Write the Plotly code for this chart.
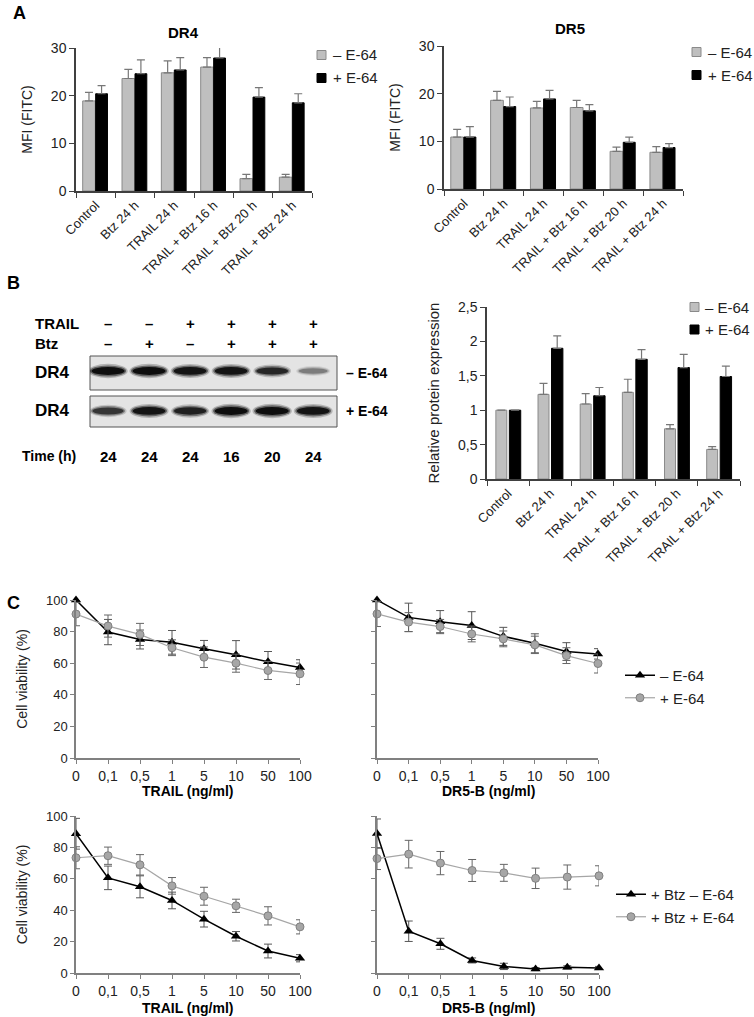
import plotly.graph_objects as go

W, H = 754, 1017
def px(x): return x / W
def py(y): return 1 - y / H

# ---------------- data ----------------
cats = ["Control", "Btz 24 h", "TRAIL 24 h", "TRAIL + Btz 16 h", "TRAIL + Btz 20 h", "TRAIL + Btz 24 h"]
dr4_minus = [18.9, 23.6, 24.8, 26.0, 2.6, 2.9]
dr4_minus_err = [1.8, 1.9, 2.5, 2.0, 0.9, 0.6]
dr4_plus = [20.4, 24.6, 25.4, 27.9, 19.7, 18.5]
dr4_plus_err = [1.7, 2.9, 2.6, 3.0, 2.0, 1.9]
dr5_minus = [10.9, 18.6, 17.0, 17.1, 7.9, 7.7]
dr5_minus_err = [1.6, 1.9, 1.4, 1.5, 0.9, 1.2]
dr5_plus = [10.9, 17.3, 18.9, 16.4, 9.8, 8.7]
dr5_plus_err = [2.2, 2.0, 1.8, 1.3, 1.1, 0.8]
rel_minus = [1.0, 1.23, 1.09, 1.26, 0.73, 0.43]
rel_minus_err = [0, 0.16, 0.15, 0.19, 0.06, 0.04]
rel_plus = [1.0, 1.90, 1.21, 1.74, 1.62, 1.49]
rel_plus_err = [0, 0.18, 0.12, 0.14, 0.19, 0.15]
bar_series = ["– E-64", "+ E-64"]

doses = ["0", "0,1", "0,5", "1", "5", "10", "50", "100"]
trail_minus = [100, 79.7, 75.0, 73.2, 69.1, 65.3, 60.9, 57.3]
trail_minus_err = [0, 8, 6, 7.5, 5.3, 9, 6.5, 4.9]
trail_plus = [91.1, 83.5, 78.2, 69.8, 63.8, 60.0, 55.4, 53.3]
trail_plus_err = [7.4, 7, 7, 5, 6.5, 5.7, 5.7, 6.8]
dr5b_minus = [100, 89, 86.3, 83.8, 77, 72.6, 67.4, 65.9]
dr5b_minus_err = [0, 9, 7, 8.8, 5.7, 6, 5.6, 3.3]
dr5b_plus = [91.2, 86, 83.2, 78.5, 75.4, 71.6, 64.8, 59.8]
dr5b_plus_err = [8, 6, 4.5, 5, 5, 5.5, 5, 6]
btz_trail_minus = [88.7, 60.6, 54.9, 46.2, 34.3, 23.4, 14.0, 9.4]
btz_trail_minus_err = [9.8, 7.5, 7, 5.3, 5, 3, 4.4, 2.3]
btz_trail_plus = [73.4, 74.7, 68.9, 55.5, 48.9, 42.8, 36.4, 29.4]
btz_trail_plus_err = [7, 5.5, 6.5, 5.3, 5.7, 4.2, 5.8, 4.5]
btz_dr5b_minus = [88.8, 26.6, 18.6, 8.0, 4.2, 2.5, 3.6, 3.2]
btz_dr5b_minus_err = [9.3, 6.5, 3.5, 1.6, 2, 1, 1, 1]
btz_dr5b_plus = [72.9, 75.7, 70.0, 65.3, 63.8, 60.3, 61.1, 61.9]
btz_dr5b_plus_err = [7, 8.8, 7.4, 7, 5.4, 6.5, 7.7, 6.4]

trail_signs = ["–", "–", "+", "+", "+", "+"]
btz_signs = ["–", "+", "–", "+", "+", "+"]
times = ["24", "24", "24", "16", "20", "24"]
band_minus = [1.0, 1.0, 0.95, 0.95, 0.8, 0.35]
band_plus = [0.7, 0.95, 0.85, 1.0, 1.0, 0.95]

FONT = "Liberation Sans, Arial, sans-serif"
GRAY = "#bfbfbf"
GRAY_LINE = "#8a8a8a"
ERR = "#777777"

fig = go.Figure()
shapes = []
ann = []

def A(x, y, t, size, bold=True, xref="paper", xanchor="center", color="#000000", yanchor="middle"):
    ann.append(dict(x=x, y=y, xref=xref, yref="paper", text=("<b>%s</b>" % t) if bold else t,
                    showarrow=False, font=dict(family=FONT, size=size, color=color),
                    xanchor=xanchor, yanchor=yanchor))

# ---------------- bar panels ----------------
def bars(xa, ya, minus, minus_err, plus, plus_err, goff, gw, boff, bw):
    n = len(minus)
    fig.add_trace(go.Bar(x=cats, y=minus, xaxis=xa, yaxis=ya, name=bar_series[0],
                         offset=goff, width=gw, showlegend=False,
                         marker=dict(color=GRAY, line=dict(color=GRAY_LINE, width=1)),
                         error_y=dict(type="data", symmetric=False, array=minus_err,
                                      arrayminus=[0] * n, color=ERR, thickness=1.2, width=4)))
    fig.add_trace(go.Bar(x=cats, y=plus, xaxis=xa, yaxis=ya, name=bar_series[1],
                         offset=boff, width=bw, showlegend=False,
                         marker=dict(color="#000000", line=dict(color="#000000", width=1)),
                         error_y=dict(type="data", symmetric=False, array=plus_err,
                                      arrayminus=[0] * n, color=ERR, thickness=1.2, width=4)))

bars("x", "y", dr4_minus, dr4_minus_err, dr4_plus, dr4_plus_err, -0.33, 0.32, 0.0, 0.3)
bars("x2", "y2", dr5_minus, dr5_minus_err, dr5_plus, dr5_plus_err, -0.33, 0.32, 0.0, 0.3)
bars("x3", "y3", rel_minus, rel_minus_err, rel_plus, rel_plus_err, -0.29, 0.26, 0.03, 0.27)

def bar_legend(x_sq, y_first, step, x_txt):
    fills = [(GRAY, GRAY_LINE), ("#000000", "#000000")]
    for k, name in enumerate(bar_series):
        yc = y_first + k * step
        shapes.append(dict(type="rect", xref="paper", yref="paper", x0=px(x_sq), x1=px(x_sq + 9),
                           y0=py(yc + 4.5), y1=py(yc - 4.5), fillcolor=fills[k][0],
                           line=dict(color=fills[k][1], width=1)))
        A(px(x_txt), py(yc), name, 15, bold=False, xanchor="left", color="#222222")

bar_legend(317, 55, 23, 331)
bar_legend(692, 52, 23, 706)
bar_legend(690, 307, 22.5, 703)

# ---------------- line panels ----------------
def lines(xa, ya, blk, blk_err, gry, gry_err, legend, names, show):
    xs = list(range(len(doses)))
    fig.add_trace(go.Scatter(x=xs, y=blk, xaxis=xa, yaxis=ya, mode="lines+markers",
                             name=names[0], legend=legend, showlegend=show, cliponaxis=False,
                             line=dict(color="#000000", width=1.5),
                             marker=dict(symbol="triangle-up", size=9, color="#000000"),
                             error_y=dict(type="data", array=blk_err, color="#555555",
                                          thickness=1, width=4)))
    fig.add_trace(go.Scatter(x=xs, y=gry, xaxis=xa, yaxis=ya, mode="lines+markers",
                             name=names[1], legend=legend, showlegend=show, cliponaxis=False,
                             line=dict(color="#a6a6a6", width=1.2),
                             marker=dict(symbol="circle", size=8, color="#a6a6a6",
                                         line=dict(color="#808080", width=1)),
                             error_y=dict(type="data", array=gry_err, color="#666666",
                                          thickness=1, width=4)))

n1 = ["– E-64", "+ E-64"]
n2 = ["+ Btz – E-64", "+ Btz + E-64"]
lines("x5", "y5", trail_minus, trail_minus_err, trail_plus, trail_plus_err, "legend", n1, False)
lines("x6", "y6", dr5b_minus, dr5b_minus_err, dr5b_plus, dr5b_plus_err, "legend", n1, True)
lines("x7", "y7", btz_trail_minus, btz_trail_minus_err, btz_trail_plus, btz_trail_plus_err, "legend2", n2, False)
lines("x8", "y8", btz_dr5b_minus, btz_dr5b_minus_err, btz_dr5b_plus, btz_dr5b_plus_err, "legend2", n2, True)

# x-axis titles for the viability panels
A(px(188), py(791), "TRAIL (ng/ml)", 14)
A(px(488), py(791), "DR5-B (ng/ml)", 14)
A(px(188), py(1008), "TRAIL (ng/ml)", 14)
A(px(488), py(1008), "DR5-B (ng/ml)", 14)

# ---------------- blot ----------------
for (y0, y1) in [(356, 390), (396, 427)]:
    shapes.append(dict(type="rect", xref="paper", yref="paper", x0=px(90), x1=px(337),
                       y0=py(y1), y1=py(y0), fillcolor="#e4e4e4",
                       line=dict(color="#555555", width=1), layer="below"))
for row, vals in enumerate([band_minus, band_plus]):
    for i, v in enumerate(vals):
        for sx, sy, op in [(1.0, 1.0, 0.22), (0.92, 0.78, 0.45), (0.84, 0.55, 0.85)]:
            hh = 0.18 * sy * (0.55 + 0.45 * v)
            ww = 0.48 * sx * (0.8 + 0.2 * v)
            shapes.append(dict(type="circle", xref="x4", yref="y4",
                               x0=i - ww, x1=i + ww, y0=row - hh, y1=row + hh,
                               fillcolor="rgba(0,0,0,%.3f)" % (op * v),
                               line=dict(width=0)))

A(px(33), py(323), "TRAIL", 15, xanchor="left")
A(px(33), py(343), "Btz", 15, xanchor="left")
for i, s in enumerate(trail_signs):
    A(i, py(323), s, 15, xref="x4")
for i, s in enumerate(btz_signs):
    A(i, py(343), s, 15, xref="x4")
A(px(33), py(372), "DR4", 17, xanchor="left")
A(px(33), py(410), "DR4", 17, xanchor="left")
A(px(344), py(373), "– E-64", 14, xanchor="left")
A(px(344), py(411), "+ E-64", 14, xanchor="left")
A(px(20), py(456), "Time (h)", 14, xanchor="left")
for i, t in enumerate(times):
    A(i, py(456), t, 15, xref="x4")

# titles and panel letters
A(px(183), py(32), "DR4", 15)
A(px(570), py(28), "DR5", 15)
A(px(11), py(13), "A", 18, xanchor="left")
A(px(5), py(283), "B", 18, xanchor="left")
A(px(5), py(603), "C", 18, xanchor="left")

# ---------------- axes ----------------
AX = "#404040"
TF = dict(family=FONT, size=13, color="#222222")
TFX = dict(family=FONT, size=14, color="#222222")

def bar_x(dom, size, anchor):
    return dict(domain=dom, type="category", tickson="boundaries", ticks="outside", ticklen=5,
                tickcolor=AX, showline=True, linecolor=AX, linewidth=1.5, tickangle=-45,
                tickfont=dict(family=FONT, size=size, color="#222222"), showgrid=False,
                zeroline=False, range=[-0.5, 5.5], automargin=False, anchor=anchor)

def bar_y(dom, rng, title, tsize, anchor, **kw):
    d = dict(domain=dom, range=rng, ticks="outside", ticklen=5, tickcolor=AX, showline=True,
             linecolor=AX, linewidth=1.5, showgrid=False, zeroline=False, tickfont=TF,
             title=dict(text=title, font=dict(family=FONT, size=tsize, color="#222222")),
             anchor=anchor, automargin=False)
    d.update(kw)
    return d

def line_x(dom, anchor):
    return dict(domain=dom, range=[0, 7], tickvals=list(range(8)), ticktext=doses,
                ticks="outside", ticklen=4, tickcolor="#808080", showline=True, linecolor="#808080",
                linewidth=1.5, showgrid=False, zeroline=False, tickfont=TFX, anchor=anchor,
                automargin=False)

def line_y(dom, anchor, labels):
    return dict(domain=dom, range=[0, 100], tickvals=[0, 20, 40, 60, 80, 100], ticks="outside",
                ticklen=4, tickcolor="#808080", showline=True, linecolor="#808080", linewidth=1.5,
                showgrid=False, zeroline=False, tickfont=TF, anchor=anchor, showticklabels=labels,
                automargin=False,
                title=dict(text="Cell viability (%)" if labels else "",
                           font=dict(family=FONT, size=14, color="#222222")))

legend_common = dict(bgcolor="rgba(0,0,0,0)", xanchor="left", yanchor="top",
                     font=dict(family=FONT, size=15, color="#222222"), tracegroupgap=0)

fig.update_layout(
    width=W, height=H, margin=dict(l=0, r=0, t=0, b=0, autoexpand=False),
    paper_bgcolor="white", plot_bgcolor="white", barmode="overlay",
    font=dict(family=FONT),
    xaxis=bar_x([px(76), px(312)], 13, "y"),
    yaxis=bar_y([py(191), py(48)], [0, 30], "MFI (FITC)", 14, "x", tickvals=[0, 10, 20, 30],
                tickfont=dict(family=FONT, size=14, color="#222222")),
    xaxis2=bar_x([px(444), px(683)], 13, "y2"),
    yaxis2=bar_y([py(189), py(46)], [0, 30], "MFI (FITC)", 14, "x2", tickvals=[0, 10, 20, 30],
                 tickfont=dict(family=FONT, size=14, color="#222222")),
    xaxis3=bar_x([px(487), px(740)], 13, "y3"),
    yaxis3=bar_y([py(479), py(307)], [0, 2.5], "Relative protein expression", 15, "x3",
                 tickvals=[0, 0.5, 1, 1.5, 2, 2.5], ticktext=["0", "0,5", "1", "1,5", "2", "2,5"],
                 tickfont=dict(family=FONT, size=14, color="#222222")),
    xaxis4=dict(domain=[px(90), px(337)], range=[-0.44, 5.58], visible=False, anchor="y4"),
    yaxis4=dict(domain=[py(427), py(356)], range=[1.401, -0.375], visible=False, anchor="x4"),
    xaxis5=line_x([px(76), px(300)], "y5"),
    yaxis5=line_y([py(758), py(600)], "x5", True),
    xaxis6=line_x([px(377), px(598)], "y6"),
    yaxis6=line_y([py(758), py(600)], "x6", False),
    xaxis7=line_x([px(76), px(300)], "y7"),
    yaxis7=line_y([py(973), py(816)], "x7", True),
    xaxis8=line_x([px(377), px(599)], "y8"),
    yaxis8=line_y([py(973), py(816)], "x8", False),
    legend=legend_common | dict(x=px(620), y=py(659)),
    legend2=legend_common | dict(x=px(611), y=py(878)),
    shapes=shapes, annotations=ann,
)

fig.write_html("out.html", config={"displayModeBar": False},
               post_script="document.body.style.margin='0';document.body.style.overflow='hidden';")
